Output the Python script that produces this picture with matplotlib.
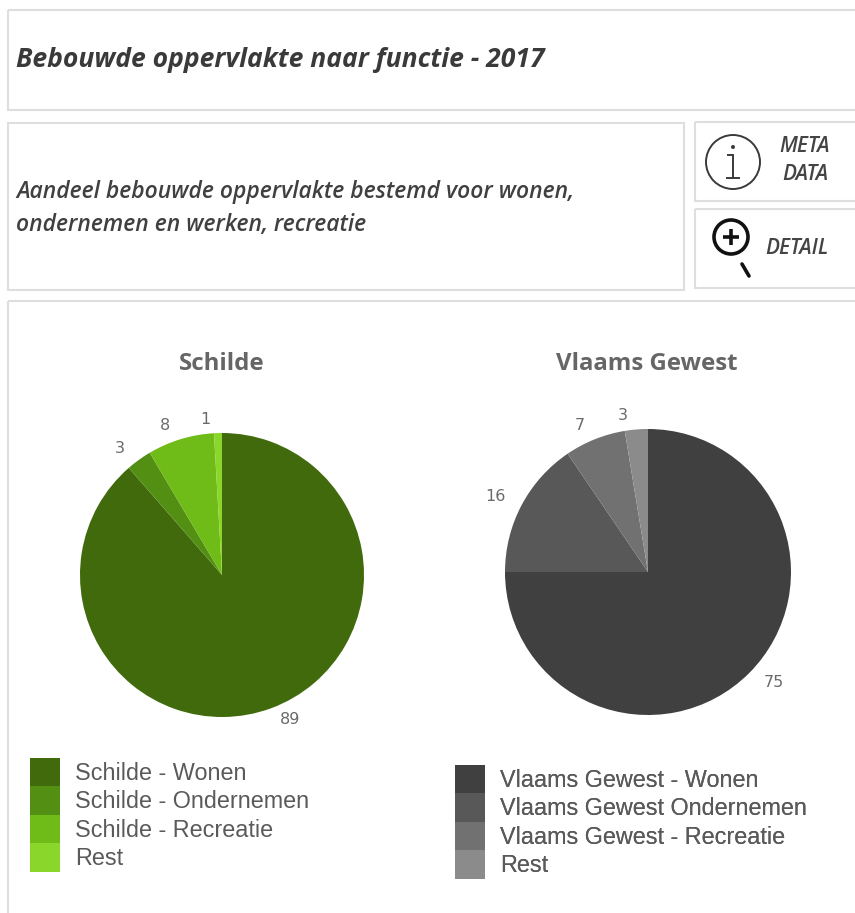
import matplotlib
matplotlib.use("Agg")
import matplotlib.pyplot as plt
from matplotlib.patches import Circle, Rectangle

W, H = 855, 913
title = "Bebouwde oppervlakte naar functie - 2017"
subtitle = ["Aandeel bebouwde oppervlakte bestemd voor wonen,", "ondernemen en werken, recreatie"]

schilde_name = "Schilde"
schilde_labels = ["Schilde - Wonen", "Schilde - Ondernemen", "Schilde - Recreatie", "Rest"]
schilde_values = [88.6, 2.9, 7.6, 0.9]
schilde_colors = ["#416A0C", "#528F12", "#6FBB17", "#8AD62A"]

vlaams_name = "Vlaams Gewest"
vlaams_labels = ["Vlaams Gewest - Wonen", "Vlaams Gewest Ondernemen", "Vlaams Gewest - Recreatie", "Rest"]
vlaams_values = [75.0, 15.5, 6.9, 2.6]
vlaams_colors = ["#404040", "#585858", "#717171", "#8B8B8B"]

HEAD = "Open Sans"
BODY = "Liberation Sans"
GRID = "#DEDEDE"

fig = plt.figure(figsize=(W / 100, H / 100), dpi=100, facecolor="white")
bg = fig.add_axes([0, 0, 1, 1])
bg.set_xlim(0, W)
bg.set_ylim(H, 0)
bg.axis("off")


def box(x0, y0, x1, y1):
    bg.add_patch(Rectangle((x0, y0), x1 - x0, y1 - y0, fill=False, ec=GRID, lw=1.5))


box(8, 10, 880, 110)
box(8, 123, 684, 290)
box(695, 122, 880, 201)
box(695, 209, 880, 288)
box(8, 301, 880, 950)

bg.text(16, 60, title, fontsize=19.1, family=HEAD, weight="bold", style="italic", color="#3A3A3A", va="center")
bg.text(16, 192, subtitle[0], fontsize=16.5, family=HEAD, weight="semibold", style="italic", color="#404040", va="center")
bg.text(16, 225, subtitle[1], fontsize=16.5, family=HEAD, weight="semibold", style="italic", color="#404040", va="center")

# info icon
INK = "#3A3A3A"
bg.add_patch(Circle((733, 162), 27, fill=False, ec=INK, lw=1.4))
bg.add_patch(Circle((733, 147), 2, fc=INK, ec="none"))
bg.plot([728, 733, 733], [155, 155, 178], color=INK, lw=1.4, solid_joinstyle="miter")
bg.plot([727, 739], [178, 178], color=INK, lw=1.4)
bg.text(805, 146, "META", fontsize=15, family=HEAD, weight="semibold", style="italic", color="#444444", ha="center", va="center")
bg.text(805, 174, "DATA", fontsize=15, family=HEAD, weight="semibold", style="italic", color="#444444", ha="center", va="center")

# detail icon
bg.add_patch(Circle((731, 237), 17, fill=False, ec="#111111", lw=2.6))
bg.plot([723, 739], [237, 237], color="#111111", lw=2.6, solid_capstyle="butt")
bg.plot([731, 731], [229, 245], color="#111111", lw=2.6, solid_capstyle="butt")
bg.plot([742, 749], [264, 276], color="#111111", lw=2.6, solid_capstyle="round")
bg.text(797, 249, "DETAIL", fontsize=15, family=HEAD, weight="semibold", style="italic", color="#444444", ha="center", va="center")


def pie(cx, cy, r, values, colors, nudges):
    span = 1.3
    ax = fig.add_axes([(cx - span * r) / W, 1 - (cy + span * r) / H, 2 * span * r / W, 2 * span * r / H])
    _, texts = ax.pie(values, colors=colors, startangle=90, counterclock=False,
                      labels=[f"{round(v)}" for v in values], labeldistance=1.1,
                      textprops=dict(fontsize=11.5, family="DejaVu Sans", color="#6A6A6A"),
                      wedgeprops=dict(linewidth=0))
    ax.set_xlim(-span, span)
    ax.set_ylim(-span, span)
    ax.patch.set_alpha(0)
    for t, (dx, dy) in zip(texts, nudges):
        x, y = t.get_position()
        t.set_position((x + dx / r, y - dy / r))


pie(222, 575, 142, schilde_values, schilde_colors, [(3, -2), (-6, 0), (-6, 0), (-7, 1)])
pie(648, 572, 143, vlaams_values, vlaams_colors, [(5, -1), (-3, -2), (-5, 0), (-7, 0)])

bg.text(222, 364, schilde_name, fontsize=17.3, family=HEAD, weight="bold", color="#666666", ha="center", va="center")
bg.text(647, 364, vlaams_name, fontsize=17.3, family=HEAD, weight="bold", color="#666666", ha="center", va="center")


def legend(x, y, labels, colors):
    fs = 16.8
    px = fs * 100 / 72
    handles = [Rectangle((0, 0), 1, 1, fc=c, ec="none") for c in colors]
    leg = bg.legend(handles, labels, loc="upper left", bbox_to_anchor=(x, y), bbox_transform=bg.transData,
                    frameon=False, borderpad=0, borderaxespad=0, labelspacing=0,
                    handlelength=30 / px, handleheight=(28.5 / px - 0.245) / 0.65, handletextpad=15 / px,
                    prop=dict(family=BODY, size=fs))
    for t in leg.get_texts():
        t.set_color("#5A5A5A")
    bg.add_artist(leg)


legend(30, 758, schilde_labels, schilde_colors)
legend(455, 765, vlaams_labels, vlaams_colors)

fig.savefig("out.png", dpi=100)
